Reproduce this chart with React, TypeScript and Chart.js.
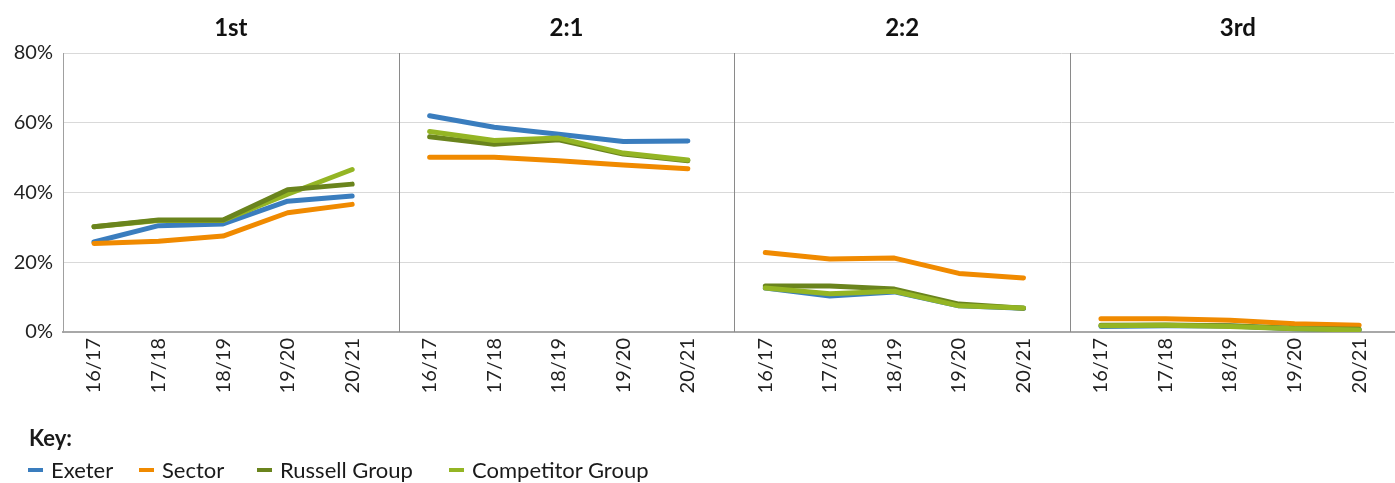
import React, { useEffect, useRef } from "react";
import { Chart, registerables } from "chart.js";

Chart.register(...registerables);

// ---------- data ----------
const PANELS = ["1st", "2:1", "2:2", "3rd"];
const YEARS = ["16/17", "17/18", "18/19", "19/20", "20/21"];
const SERIES_NAMES = ["Exeter", "Sector", "Russell Group", "Competitor Group"];

// values in %, panel by panel (1st | 2:1 | 2:2 | 3rd), years 16/17..20/21
const EXETER = [25.8, 30.5, 31.0, 37.5, 39.0, 62.0, 58.7, 56.7, 54.6, 54.8, 12.6, 10.3, 11.5, 7.5, 6.8, 1.6, 1.8, 1.7, 0.9, 0.6];
const SECTOR = [25.4, 26.0, 27.5, 34.2, 36.6, 50.1, 50.1, 49.1, 47.9, 46.8, 22.8, 20.9, 21.2, 16.8, 15.5, 3.8, 3.8, 3.4, 2.4, 1.9];
const RUSSELL = [30.2, 32.1, 32.1, 40.8, 42.4, 56.0, 53.8, 55.1, 51.0, 49.1, 13.2, 13.2, 12.3, 8.0, 6.8, 1.9, 2.0, 1.8, 1.0, 0.8];
const COMPETITOR = [30.2, 32.0, 32.0, 39.5, 46.6, 57.5, 54.9, 55.6, 51.3, 49.3, 12.6, 11.0, 11.7, 7.5, 6.9, 1.8, 1.9, 1.6, 0.9, 0.6];
const SERIES = [EXETER, SECTOR, RUSSELL, COMPETITOR];

const Y_MIN = 0;
const Y_MAX = 80;
const Y_STEP = 20;

// ---------- style ----------
const COLORS = ["#3A7DBE", "#F08A00", "#6A841D", "#94B524"];
const FONT = "Lato, 'Open Sans', sans-serif";
const PANEL_SPAN = 5.2; // x-units per panel
const POINT_OFFSET = 0.48; // first point offset inside a panel
const X_MAX = 20.62;
// which series sits on top in each panel
const TOP_SERIES = [2, 3, 3, 3];
const LEGEND_ITEM_WIDTHS = [111, 118, 192, 200];

const xFor = (p: number, i: number) => p * PANEL_SPAN + POINT_OFFSET + i;

const panelPlugin = {
  id: "panelDecor",
  beforeDatasetsDraw(chart: any) {
    const { ctx, chartArea, scales } = chart;
    const x = scales.x;
    ctx.save();
    ctx.strokeStyle = "#8a8a8a";
    ctx.lineWidth = 1;
    for (let p = 1; p < PANELS.length; p++) {
      const px = Math.round(x.getPixelForValue(p * PANEL_SPAN)) + 0.5;
      ctx.beginPath();
      ctx.moveTo(px, chartArea.top);
      ctx.lineTo(px, chartArea.bottom);
      ctx.stroke();
    }
    ctx.fillStyle = "#111";
    ctx.font = `bold 24px ${FONT}`;
    ctx.textAlign = "center";
    ctx.textBaseline = "alphabetic";
    PANELS.forEach((name, p) => {
      const cx = x.getPixelForValue((p + 0.5) * PANEL_SPAN);
      ctx.fillText(name, cx, 36);
    });
    ctx.restore();
  },
};

export default function App() {
  const canvasRef = useRef<HTMLCanvasElement | null>(null);

  useEffect(() => {
    if (!canvasRef.current) return;
    const datasets: any[] = [];
    PANELS.forEach((_, p) => {
      SERIES.forEach((vals, s) => {
        let order = SERIES.length - 1 - s;
        if (s === TOP_SERIES[p]) order = -1;
        datasets.push({
          label: SERIES_NAMES[s],
          data: YEARS.map((_, i) => ({ x: xFor(p, i), y: vals[p * YEARS.length + i] })),
          borderColor: COLORS[s],
          backgroundColor: COLORS[s],
          borderWidth: 5,
          pointRadius: 0,
          pointHoverRadius: 0,
          borderCapStyle: "round",
          borderJoinStyle: "round",
          tension: 0,
          fill: false,
          order,
        });
      });
    });

    const chart = new Chart(canvasRef.current, {
      type: "line",
      data: { datasets },
      plugins: [panelPlugin],
      options: {
        animation: false,
        responsive: false,
        layout: { padding: { top: 53, left: 0, right: 1, bottom: 0 } },
        plugins: { legend: { display: false }, tooltip: { enabled: false } },
        scales: {
          x: {
            type: "linear",
            min: 0,
            max: X_MAX,
            afterFit: (s: any) => {
              s.height = 151;
            },
            afterBuildTicks: (s: any) => {
              s.ticks = PANELS.flatMap((_, p) => YEARS.map((_, i) => ({ value: xFor(p, i) })));
            },
            grid: { display: false, drawTicks: false },
            border: { display: true, color: "#a8a8a8", width: 2 },
            ticks: {
              autoSkip: false,
              minRotation: 90,
              maxRotation: 90,
              padding: 6,
              color: "#222",
              font: { family: FONT, size: 20 },
              callback: (_v: any, index: number) => YEARS[index % YEARS.length],
            },
          },
          y: {
            min: Y_MIN,
            max: Y_MAX,
            afterFit: (s: any) => {
              s.width = 63;
            },
            grid: { color: "#d9d9d9", lineWidth: 1, drawTicks: false },
            border: { display: true, color: "#a0a0a0", width: 1 },
            ticks: {
              stepSize: Y_STEP,
              padding: 10,
              color: "#222",
              font: { family: FONT, size: 20 },
              callback: (v: any) => `${v}%`,
            },
          },
        },
      },
    });
    return () => chart.destroy();
  }, []);

  return (
    <div style={{ position: "fixed", left: 0, top: 0, width: 1395, height: 483, background: "#fff", overflow: "hidden" }}>
      <canvas ref={canvasRef} width={1395} height={483} style={{ display: "block" }} />
      <div style={{ position: "absolute", left: 28, top: 426, fontFamily: FONT, color: "#1a1a1a" }}>
        <div style={{ fontWeight: 700, fontSize: 22, lineHeight: "24px", marginLeft: 1 }}>Key:</div>
        <div style={{ display: "flex", alignItems: "center", marginTop: 8, fontSize: 22, lineHeight: "24px", whiteSpace: "nowrap" }}>
          {SERIES_NAMES.map((name, i) => (
            <span key={name} style={{ display: "flex", alignItems: "center", width: LEGEND_ITEM_WIDTHS[i] }}>
              <span style={{ display: "inline-block", width: 15, height: 4, background: COLORS[i], marginRight: 8 }} />
              {name}
            </span>
          ))}
        </div>
      </div>
    </div>
  );
}
